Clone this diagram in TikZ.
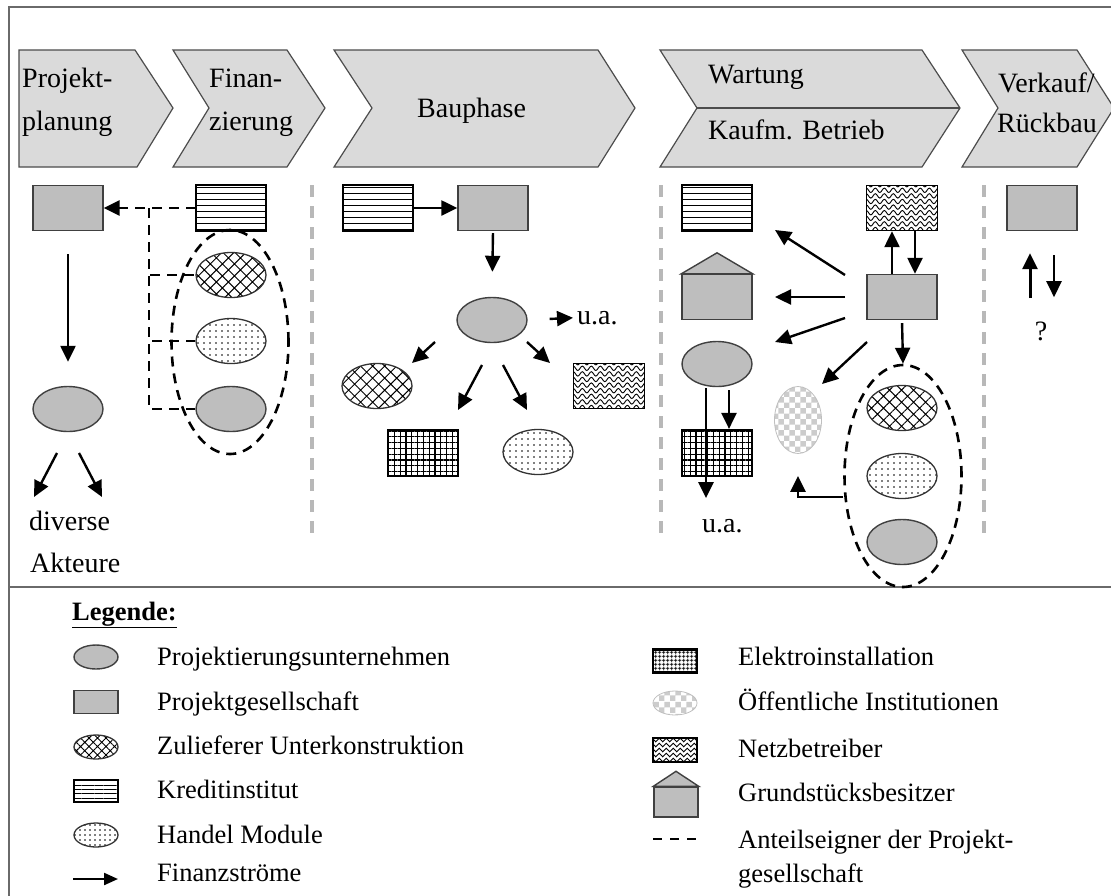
\documentclass[tikz,border=0pt]{standalone}
\usepackage{fontspec}
\setmainfont{Liberation Serif}
\usetikzlibrary{arrows.meta,patterns,patterns.meta,shapes.geometric,decorations.pathmorphing,calc}
\definecolor{entgray}{HTML}{BEBEBE}
\definecolor{chevgray}{HTML}{DADADA}
\definecolor{framegray}{HTML}{6A6A6A}
\definecolor{sepgray}{HTML}{B8B8B8}
\begin{document}
\begin{tikzpicture}[x=1pt,y=-1pt,
  chev/.style={fill=chevgray, draw=black!70, line width=1.2pt},
  txt/.style={inner sep=0pt, anchor=base west, font=\fontsize{28}{30}\selectfont},
  ltxt/.style={inner sep=0pt, anchor=base west, font=\fontsize{26.5}{30}\selectfont},
  ent/.style={draw=black!75, line width=1.4pt, fill=entgray, inner sep=0pt},
  pg/.style={ent, rectangle, minimum width=70pt, minimum height=45pt},
  pu/.style={ent, ellipse, minimum width=70pt, minimum height=45pt},
  kredit/.style={draw=black, line width=1.3pt, rectangle, inner sep=0pt, minimum width=70pt, minimum height=46pt,
     pattern={Lines[angle=0,distance=6pt,line width=0.9pt]}},
  zu/.style={draw=black!80, line width=1.3pt, ellipse, inner sep=0pt, minimum width=70pt, minimum height=45pt,
     pattern={Hatch[angle=45,distance=8.5pt,line width=1pt]}},
  hm/.style={draw=black!80, line width=1.3pt, ellipse, inner sep=0pt, minimum width=70pt, minimum height=45pt,
     pattern={Dots[distance=6pt,radius=0.9pt]}},
  el/.style={draw=black, line width=2.2pt, rectangle, inner sep=0pt, minimum width=70pt, minimum height=46pt,
     pattern={Hatch[angle=0,distance=5.8pt,line width=1.1pt]}},
  nb/.style={draw=black, line width=1.4pt, rectangle, inner sep=0pt, minimum width=71pt, minimum height=45pt,
     path picture={\foreach \k in {0,...,8}{\draw[line width=0.9pt, decorate, decoration={snake, segment length=9pt, amplitude=2.2pt}]
       ([yshift=\k*5.6pt+1pt,xshift=-3pt]path picture bounding box.south west) -- ++(90pt,0pt);}}},
  oi/.style={draw=gray!50, line width=0.8pt, ellipse, inner sep=0pt, pattern=checkerboard, pattern color=gray!40},
  dashell/.style={draw=black, ellipse, inner sep=0pt, line width=2.6pt, dash pattern={on 10pt off 7pt}},
  dsh/.style={line width=2.6pt, dash pattern={on 10pt off 7pt}},
  arrtip/.style={-{Triangle[length=16pt,width=15pt]}},
  arr/.style={arrtip, line width=2.4pt},
  sep/.style={draw=sepgray, line width=3.5pt, dash pattern={on 12pt off 9pt}},
  framec/.style={draw=framegray, line width=2.4pt}
]
\useasboundingbox (0,0) rectangle (1111,895);
% frame
\draw[framec] (9,7) rectangle (1130,910);
\draw[framec] (9,587) -- (1130,587);
% chevrons
\draw[chev] (19,50) -- (135,50) -- (173,108) -- (137,167) -- (19,167) -- cycle;
\draw[chev] (173,50) -- (287,50) -- (325,108) -- (287,167) -- (173,167) -- (209,108) -- cycle;
\draw[chev] (334,50) -- (598,50) -- (635,108) -- (598,167) -- (334,167) -- (372,108) -- cycle;
\draw[chev] (660,50) -- (922,50) -- (960,108) -- (922,167) -- (660,167) -- (697,108) -- cycle;
\draw[chev] (697,108) -- (960,108);
\draw[chev] (962,50) -- (1077,50) -- (1114,108) -- (1077,167) -- (962,167) -- (998,108) -- cycle;
\node[txt] (c1a) at (22,87) {Projekt-};
\node[txt] (c1b) at (22,130) {planung};
\node[txt] (c2a) at (209,87) {Finan-};
\node[txt] (c2b) at (209,130) {zierung};
\node[txt] (c3) at (417,117) {Bauphase};
\node[txt] (c4a) at (708,83) {Wartung};
\node[txt] (c4b) at (708,139) {Kaufm. Betrieb};
\node[txt] (c5a) at (998,92) {Verkauf/};
\node[txt] (c5b) at (997,132) {Rückbau};
% separators
\draw[sep] (312,185) -- (312,540);
\draw[sep] (661,185) -- (661,540);
\draw[sep] (984,185) -- (984,540);

% ---- Section A
\node[pg] (pgA) at (68,208) {};
\node[kredit] (krA) at (231,208) {};
\node[dashell, minimum width=117pt, minimum height=224pt] (deA) at (230,342) {};
\node[zu] (zuA) at (231,275) {};
\node[hm] (hmA) at (231,341) {};
\node[pu] (puA2) at (231,409) {};
\node[pu] (puA) at (68,409) {};
\coordinate (jA) at (149,208);
\draw[dsh, arrtip] (krA.west) -- (pgA.east);
\draw[dsh] (jA) |- (zuA.west);
\draw[dsh] (jA) |- (hmA.west);
\draw[dsh] (jA) |- (puA2.west);
\draw[arr, shorten <=23pt, shorten >=24pt] (pgA) -- (puA);
\coordinate (a1s) at (57,453); \coordinate (a1e) at (34,497);
\coordinate (a2s) at (79,453); \coordinate (a2e) at (102,497);
\draw[arr] (a1s) -- (a1e);
\draw[arr] (a2s) -- (a2e);
\node[txt] (divA) at (29,530) {diverse};
\node[txt] (aktA) at (30,572) {Akteure};

% ---- Section B
\node[kredit] (krB) at (378,208) {};
\node[pg] (pgB) at (493,208) {};
\node[pu] (puB) at (492,320) {};
\node[zu] (zuB) at (377,386) {};
\node[nb] (nbB) at (609,386) {};
\node[el] (elB) at (423,453) {};
\node[hm] (hmB) at (538,452) {};
\node[txt] (uaB) at (577,324) {u.a.};
\draw[arr] (krB.east) -- (pgB.west);
\draw[arr, shorten <=2pt, shorten >=25pt] (pgB.south) -- (puB.north);
\draw[arr, shorten <=22pt, shorten >=4pt] (puB.east) -- (uaB.west);
\coordinate (b1s) at (435,342); \coordinate (b1e) at (412,363);
\coordinate (b2s) at (482,365); \coordinate (b2e) at (458,410);
\coordinate (b3s) at (503,365); \coordinate (b3e) at (527,410);
\coordinate (b4s) at (527,342); \coordinate (b4e) at (550,363);
\draw[arr] (b1s) -- (b1e);
\draw[arr] (b2s) -- (b2e);
\draw[arr] (b3s) -- (b3e);
\draw[arr] (b4s) -- (b4e);

% ---- Section C
\node[kredit] (krC) at (717,208) {};
\node[nb] (nbC) at (902,208) {};
\node[pg] (gbC) at (717,297) {};
\draw[ent] (gbC.north west) -- ([yshift=21pt]gbC.north) -- (gbC.north east) -- cycle;
\node[pg] (pgC) at (902,297) {};
\node[pu] (puC) at (717,364) {};
\node[el] (elC) at (717,453) {};
\node[oi, minimum width=47pt, minimum height=67pt] (oiC) at (798,420) {};
\node[dashell, minimum width=117pt, minimum height=222pt] (deC) at (903,476) {};
\node[zu] (zuC) at (902,408) {};
\node[hm] (hmC) at (902,476) {};
\node[pu] (puC2) at (902,542) {};
\node[txt] (uaC) at (702,532) {u.a.};
\coordinate (c1s) at (845,275); \coordinate (c1e) at (775,230);
\coordinate (c2s) at (845,297); \coordinate (c2e) at (775,297);
\coordinate (c3s) at (845,318); \coordinate (c3e) at (775,342);
\coordinate (c4s) at (867,342); \coordinate (c4e) at (822,384);
\draw[arr] (c1s) -- (c1e);
\draw[arr] (c2s) -- (c2e);
\draw[arr] (c3s) -- (c3e);
\draw[arr] (c4s) -- (c4e);
\draw[arr] ([xshift=-10pt]pgC.north) -- ([xshift=-10pt]nbC.south);
\draw[arr] ([xshift=13pt]nbC.south) -- ([xshift=13pt]pgC.north);
\draw[arr, shorten <=3pt] (pgC.south) -- (deC.north);
\draw[line width=2.2pt] ([xshift=-11pt,yshift=-1pt]puC.south) -- ([xshift=-11pt]elC.south);
\draw[arr] ([xshift=-11pt]elC.south) -- ([xshift=-11pt,yshift=-21pt]elC.south);
\draw[arr] ([xshift=12pt,yshift=-3pt]puC.south) -- ([xshift=12pt]elC.north);
\draw[arr, line width=2.6pt] ([yshift=-21pt]deC.west) -| ([yshift=-22pt]oiC.south);

% ---- Section D
\node[pg] (pgD) at (1042,208) {};
\draw[arr, line width=3pt] ([xshift=-12pt,yshift=-67pt]pgD.south) -- ([xshift=-12pt,yshift=-22pt]pgD.south);
\draw[arr] ([xshift=12pt,yshift=-24pt]pgD.south) -- ([xshift=12pt,yshift=-66pt]pgD.south);
\node[txt, anchor=base] (qD) at (1041,340) {?};

% ---- Legend
\node[ltxt, font=\fontsize{26.5}{30}\selectfont\bfseries] (leg) at (72,620) {\underline{Legende:}};
\node[pu, minimum width=44pt, minimum height=24pt] (l1) at (96,657) {};
\node[pg, minimum width=44pt, minimum height=23pt] (l2) at (96,702) {};
\node[zu, minimum width=44pt, minimum height=24pt, pattern={Hatch[angle=45,distance=6pt,line width=0.9pt]}] (l3) at (96,747) {};
\node[kredit, minimum width=44pt, minimum height=22pt, pattern={Lines[angle=0,distance=4.4pt,line width=0.9pt]}] (l4) at (96,791) {};
\node[hm, minimum width=44pt, minimum height=24pt, pattern={Dots[distance=5pt,radius=0.8pt]}] (l5) at (96,835) {};
\coordinate (l6s) at (73,879); \coordinate (l6e) at (118,879);
\draw[line width=2.2pt, -{Triangle[length=14pt,width=12pt]}] (l6s) -- (l6e);
\node[ltxt] (t1) at (157,665) {Projektierungsunternehmen};
\node[ltxt] (t2) at (157,710) {Projektgesellschaft};
\node[ltxt] (t3) at (157,754) {Zulieferer Unterkonstruktion};
\node[ltxt] (t4) at (157,798) {Kreditinstitut};
\node[ltxt] (t5) at (157,843) {Handel Module};
\node[ltxt] (t6) at (157,881) {Finanzströme};

\node[el, minimum width=44pt, minimum height=23pt, pattern={Hatch[angle=0,distance=4pt,line width=0.9pt]}] (r1) at (675,661) {};
\node[oi, minimum width=44pt, minimum height=24pt] (r2) at (675,703) {};
\node[nb, minimum width=44pt, minimum height=24pt,
  path picture={\foreach \k in {0,...,4}{\draw[line width=0.9pt, decorate, decoration={snake, segment length=7pt, amplitude=1.8pt}]
       ([yshift=\k*5pt+2pt,xshift=-3pt]path picture bounding box.south west) -- ++(60pt,0pt);}}] (r3) at (675,750) {};
\node[pg, minimum width=44pt, minimum height=30pt] (r4) at (676,802) {};
\draw[ent] (r4.north west) -- ([yshift=15pt]r4.north) -- (r4.north east) -- cycle;
\coordinate (r5s) at (653,839); \coordinate (r5e) at (697,839);
\draw[line width=2.4pt, dash pattern={on 9pt off 8pt}] (r5s) -- (r5e);
\node[ltxt] (u1) at (738,665) {Elektroinstallation};
\node[ltxt] (u2) at (738,710) {Öffentliche Institutionen};
\node[ltxt] (u3) at (738,757) {Netzbetreiber};
\node[ltxt] (u4) at (738,801) {Grundstücksbesitzer};
\node[ltxt] (u5) at (738,848) {Anteilseigner der Projekt-};
\node[ltxt] (u6) at (738,882) {gesellschaft};
\end{tikzpicture}
\end{document}
